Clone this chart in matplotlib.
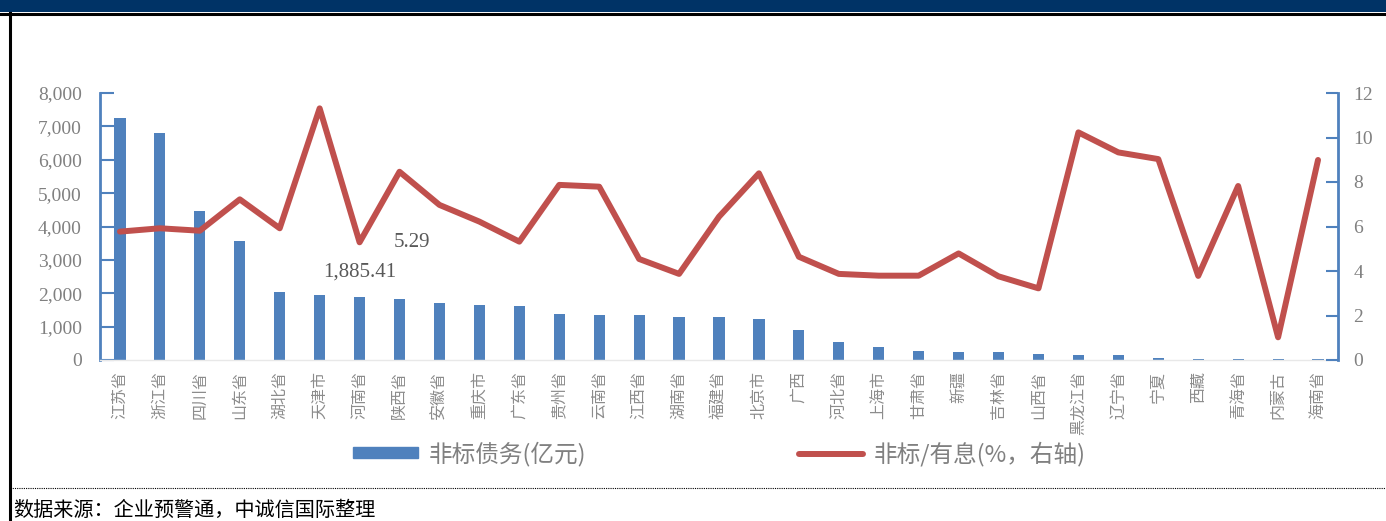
import numpy as np
import matplotlib.pyplot as plt
from matplotlib.patches import Rectangle, Patch
from matplotlib.lines import Line2D
from matplotlib.ticker import FuncFormatter

plt.rcParams['font.family'] = ['Noto Sans CJK SC', 'DejaVu Sans']

# -D- --- данные ---------------------------------------------
regions = ['江苏省', '浙江省', '四川省', '山东省', '湖北省', '天津市', '河南省', '陕西省',
           '安徽省', '重庆市', '广东省', '贵州省', '云南省', '江西省', '湖南省', '福建省',
           '北京市', '广西', '河北省', '上海市', '甘肃省', '新疆', '吉林省', '山西省',
           '黑龙江省', '辽宁省', '宁夏', '西藏', '青海省', '内蒙古', '海南省']
# 非标债务, 亿元 (левая ось)
debt = [7260, 6810, 4475, 3575, 2040, 1960, 1885.41, 1840,
        1720, 1650, 1620, 1370, 1340, 1340, 1280, 1280,
        1220, 900, 540, 400, 280, 250, 250, 180,
        140, 140, 50, 20, 20, 15, 20]
# 非标/有息, % (правая ось)
rate = [5.77, 5.92, 5.81, 7.22, 5.92, 11.31, 5.29, 8.46,
        6.97, 6.22, 5.32, 7.87, 7.79, 4.54, 3.87, 6.44,
        8.39, 4.64, 3.87, 3.79, 3.79, 4.79, 3.76, 3.22,
        10.23, 9.33, 9.03, 3.78, 7.82, 1.02, 8.99]
left_ticks = np.arange(0, 8001, 1000)
right_ticks = np.arange(0, 13, 2)

BLUE = '#4F81BD'
RED = '#C0504D'
GRAY = '#808080'
W, H = 1386, 521

fig = plt.figure(figsize=(W / 100, H / 100), dpi=100)
ax = fig.add_axes([100 / W, 1 - 360 / H, (1338 - 100) / W, (360 - 93) / H])

x = np.arange(len(regions))
ax.bar(x, debt, width=0.28, color=BLUE, zorder=2)
ax.set_xlim(-0.5, len(regions) - 0.5)
ax.set_ylim(0, 8000)
ax.set_yticks(left_ticks)
ax.yaxis.set_major_formatter(FuncFormatter(lambda v, p: f'{v:,.0f}'))
ax.tick_params(axis='y', direction='in', length=10, width=1.5, color=BLUE, pad=13,
               labelsize=14, labelcolor=GRAY, labelfontfamily='Liberation Serif')
ax.set_xticks(x)
ax.set_xticklabels(regions, rotation=90, fontsize=11.5, color='#8C8C8C', va='top')
ax.tick_params(axis='x', length=0, pad=8)
for s in ['top', 'right']:
    ax.spines[s].set_visible(False)
ax.spines['left'].set_color(BLUE)
ax.spines['left'].set_linewidth(2)
ax.spines['bottom'].set_color('#E8E8E8')
ax.spines['bottom'].set_linewidth(1)

# -C- --- линия на правой оси --------------------------------
ax2 = ax.twinx()
ax2.plot(x, rate, color=RED, lw=4.3, solid_joinstyle='round', solid_capstyle='round')
ax2.set_ylim(0, 12)
ax2.set_yticks(right_ticks)
ax2.tick_params(axis='y', direction='in', length=9, width=1.5, color=BLUE, pad=11,
                labelsize=14, labelcolor=GRAY, labelfontfamily='Liberation Serif')
for s in ['top', 'left', 'bottom']:
    ax2.spines[s].set_visible(False)
ax2.spines['right'].set_color(BLUE)
ax2.spines['right'].set_linewidth(2)

# подписи значений для 河南省
i = regions.index('河南省')
ax.annotate(f'{debt[i]:,.2f}', xy=(i, debt[i]), xytext=(0, 18), textcoords='offset points',
            ha='center', va='center', fontsize=15, color='#595959', family='Liberation Serif')
ax2.annotate(f'{rate[i]:.2f}', xy=(i, rate[i]), xytext=(38, 0), textcoords='offset points',
             ha='center', va='center', fontsize=15, color='#595959', family='Liberation Serif')

# -C- --- легенда ---------------------------------------------
handles = [Patch(color=BLUE, label='非标债务(亿元)'),
           Line2D([], [], color=RED, lw=4.3, solid_capstyle='round', label='非标/有息(%，右轴)')]
fig.legend(handles=handles, loc='center', bbox_to_anchor=(719.5 / W, 1 - 454 / H), ncol=2,
           frameon=False, fontsize=17, handlelength=2.75, handleheight=0.34,
           handletextpad=0.45, columnspacing=9.0, labelcolor=GRAY)

# -C- --- оформление рамки ------------------------------------
fig.add_artist(Rectangle((0, 1 - 12 / H), 1, 12 / H, transform=fig.transFigure,
                         color='#003366', lw=0))
fig.add_artist(Line2D([0, 1], [1 - 13.5 / H] * 2, transform=fig.transFigure, color='black', lw=2.2))
fig.add_artist(Line2D([9.5 / W] * 2, [0, 1 - 13 / H], transform=fig.transFigure, color='black', lw=2.2))
fig.add_artist(Line2D([10 / W, 1], [1 - 488 / H] * 2, transform=fig.transFigure, color='black',
                      lw=0.8, linestyle=(0, (1, 1))))
fig.text(13 / W, 1 - 510 / H, '数据来源：企业预警通，中诚信国际整理', fontsize=14.5,
         va='center', ha='left', style='italic', color='black')

fig.savefig('out.png', dpi=100)
